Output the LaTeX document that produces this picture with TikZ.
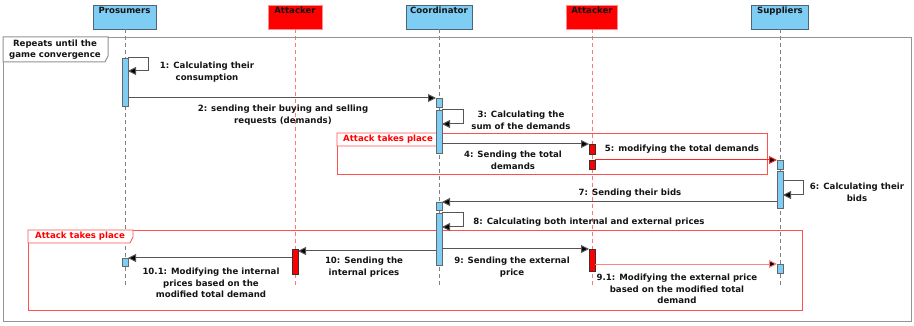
\documentclass[tikz,border=0pt]{standalone}
\usepackage{fontspec}
\setmainfont{DejaVu Sans}
\usetikzlibrary{arrows.meta,calc}
\definecolor{actblue}{RGB}{126,205,244}
\definecolor{hdrborder}{RGB}{80,100,115}
\definecolor{msggray}{RGB}{85,85,85}
\definecolor{txtdark}{RGB}{20,20,20}
\definecolor{frameRed}{RGB}{255,80,80}
\definecolor{lifeRed}{RGB}{255,120,120}
\definecolor{pinkmsg}{RGB}{255,130,130}
\begin{document}
\begin{tikzpicture}[x=1pt,y=-1pt,
  every node/.style={font=\fontsize{8.6}{11.6}\selectfont\bfseries, text=txtdark},
  hdr/.style={draw=hdrborder, fill=actblue, line width=0.9pt, minimum height=24pt, inner sep=0pt},
  hdrred/.style={draw=red!45, fill=red, line width=0.9pt, minimum height=24pt, inner sep=0pt},
  hlabel/.style={anchor=north, inner sep=2.5pt},
  life/.style={draw=gray, line width=1pt, dash pattern=on 4pt off 3pt},
  lifered/.style={draw=lifeRed, line width=1pt, dash pattern=on 4pt off 3pt},
  actbox/.style={draw=gray!80!black, fill=actblue, line width=0.6pt, minimum width=6pt, inner sep=0pt, outer sep=0pt, anchor=north},
  actred/.style={draw=black!80, fill=red, line width=0.6pt, minimum width=6pt, inner sep=0pt, outer sep=0pt, anchor=north},
  msg/.style={draw=msggray, line width=1pt, -{Triangle[length=8pt,width=8pt,fill=black]}},
  msgred/.style={draw=red!85, line width=1pt, -{Triangle[length=8pt,width=8pt,fill=black]}},
  msgpink/.style={draw=pinkmsg, line width=1pt, -{Triangle[length=8pt,width=8pt,fill=black]}},
  lbl/.style={align=center, inner sep=0pt},
  outerframe/.style={draw=gray!85, line width=1.3pt, inner sep=0pt, anchor=north west},
  redframe/.style={draw=frameRed, line width=0.8pt, inner sep=0pt, anchor=north west},
]
\useasboundingbox (0,0) rectangle (914,326);

% headers
\node[hdr, minimum width=63pt] (hP) at (124.5,17) {};
\node[hlabel] (hPt) at (hP.north) {Prosumers};
\node[hdrred, minimum width=54pt] (hA1) at (295,17) {};
\node[hlabel] (hA1t) at (hA1.north) {Attacker};
\node[hdr, minimum width=66pt] (hC) at (439,17) {};
\node[hlabel] (hCt) at (hC.north) {Coordinator};
\node[hdrred, minimum width=51pt] (hA2) at (592,17) {};
\node[hlabel] (hA2t) at (hA2.north) {Attacker};
\node[hdr, minimum width=57pt] (hS) at (780,17) {};
\node[hlabel] (hSt) at (hS.north) {Suppliers};

% lifelines
\coordinate (eP) at (125,288);
\coordinate (eA1) at (295,288);
\coordinate (eC) at (439,288);
\coordinate (eA2) at (592,288);
\coordinate (eS) at (780,288);
\draw[life] (hP.south -| eP) -- (eP);
\draw[lifered] (hA1.south) -- (eA1);
\draw[life] (hC.south) -- (eC);
\draw[lifered] (hA2.south) -- (eA2);
\draw[life] (hS.south -| eS) -- (eS);

% outer frame
\node[outerframe, minimum width=908pt, minimum height=284pt] (loopF) at (3,37) {};
\draw[draw=gray!85, line width=1pt, fill=white] (loopF.north west) -- ++(105,0) -- ++(0,19) -- ++(-3,6) -- ($(loopF.north west)+(0,25)$) -- cycle;
\node[lbl] (loopT) at (55,49.5) {Repeats until the\\game convergence};

% attack frames
\node[redframe, minimum width=430pt, minimum height=41pt] (att1) at (337,133) {};
\draw[draw=frameRed, line width=0.8pt, fill=white] (att1.north west) -- ++(104,0) -- ++(0,7) -- ++(-4,6) -- ($(att1.north west)+(0,13)$) -- cycle;
\node[lbl, text=red] (att1T) at (388,139.5) {Attack takes place};

\node[redframe, minimum width=774pt, minimum height=80pt] (att2) at (28,230) {};
\draw[draw=frameRed, line width=0.8pt, fill=white] (att2.north west) -- ++(105,0) -- ++(0,7) -- ++(-3,6) -- ($(att2.north west)+(0,13)$) -- cycle;
\node[lbl, text=red] (att2T) at (80,236.5) {Attack takes place};

% activations
\node[actbox, minimum height=48pt] (p1) at (125,58) {};
\node[actbox, minimum height=8pt] (p2) at (125,258) {};
\node[actbox, minimum height=9pt] (c1) at (439,98) {};
\node[actbox, minimum height=43pt] (c2) at (439,110) {};
\node[actbox, minimum height=8pt] (c3) at (439,202) {};
\node[actbox, minimum height=52pt] (c4) at (439,213) {};
\node[actred, minimum height=10pt] (a2a) at (592,144) {};
\node[actred, minimum height=9pt] (a2b) at (592,160) {};
\node[actred, minimum height=22pt] (a2c) at (592,249) {};
\node[actbox, minimum height=9pt] (s1) at (780,160) {};
\node[actbox, minimum height=37pt] (s2) at (780,171) {};
\node[actbox, minimum height=9pt] (s3) at (780,264) {};
\node[actred, minimum height=25pt] (a1) at (295,249) {};

% messages
\draw[msg] (p1.north east) -- ++(20,0) |- ($(p1.north east)+(0,13)$);
\draw[msg] (p1.east |- c1.north) -- (c1.north west);
\draw[msg] (c2.north east) -- ++(21,0) |- ($(c2.north east)+(0,14)$);
\draw[msg] (c2.east |- a2a.north) -- (a2a.north west);
\draw[msgred] (a2b.north east) -- (s1.north west);
\draw[msg] ($(s2.north east)+(0,10)$) -- ++(20,0) |- ($(s2.north east)+(0,24)$);
\draw[msg] (s2.west |- c3.north) -- (c3.north east);
\draw[msg] (c4.north east) -- ++(21,0) |- ($(c4.north east)+(0,14)$);
\draw[msg] (c4.east |- a2c.north) -- (a2c.north west);
\draw[msg] ($(c4.west |- a1.north)+(0,2)$) -- ($(a1.north east)+(0,2)$);
\draw[msgpink] (a2c.east |- s3.north) -- (s3.north west);
\draw[msg] (a1.west |- p2.north) -- (p2.north east);

% labels
\node[lbl] (t1) at (207,72) {1: Calculating their\\consumption};
\node[lbl] (t2) at (283,115) {2: sending their buying and selling\\requests (demands)};
\node[lbl] (t3) at (521,120) {3: Calculating the\\sum of the demands};
\node[lbl] (t4) at (513,160) {4: Sending the total\\demands};
\node[lbl] (t5) at (682,149) {5: modifying the total demands};
\node[lbl] (t6) at (857,192) {6: Calculating their\\bids};
\node[lbl] (t7) at (630,193) {7: Sending their bids};
\node[lbl] (t8) at (589,222) {8: Calculating both internal and external prices};
\node[lbl] (t9) at (512,267) {9: Sending the external\\price};
\node[lbl] (t10) at (364,267) {10: Sending the\\internal prices};
\node[lbl] (t91) at (677,289) {9.1: Modifying the external price\\based on the modified total\\demand};
\node[lbl] (t101) at (211,283) {10.1: Modifying the internal\\prices based on the\\modified total demand};
\end{tikzpicture}
\end{document}
